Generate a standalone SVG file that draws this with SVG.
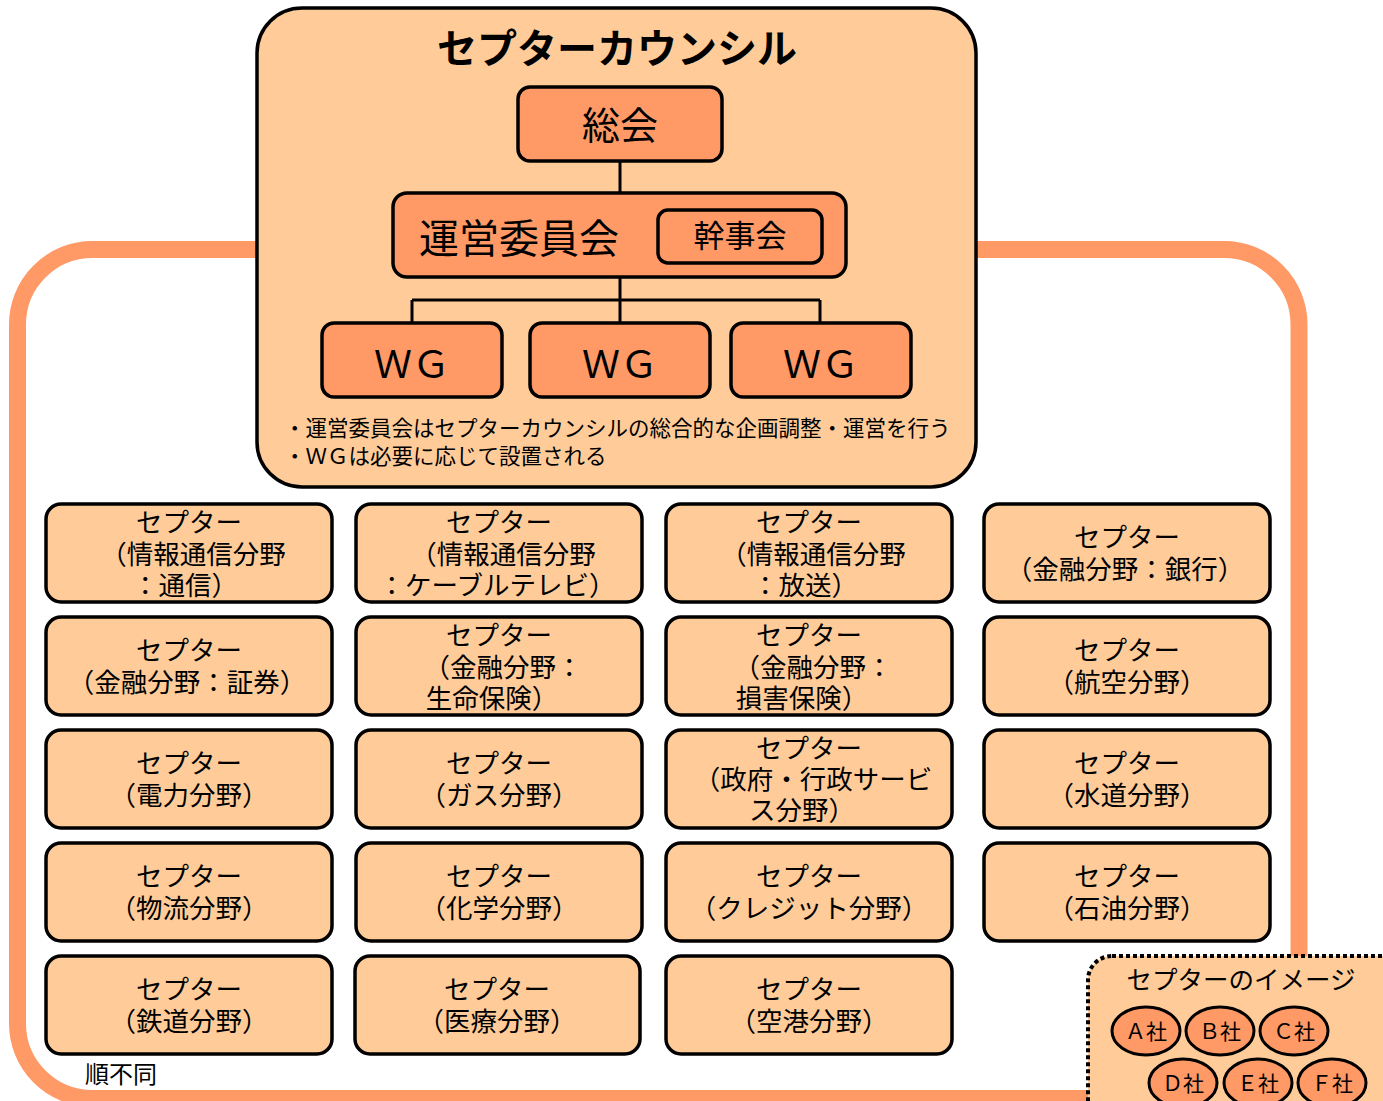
<svg xmlns="http://www.w3.org/2000/svg" width="1383" height="1101" viewBox="0 0 1383 1101">
<style>
text{font-family:"Noto Sans CJK JP","Noto Sans",sans-serif;fill:#000}
.frame{fill:none;stroke:#FF9966;stroke-width:17}
.council{fill:#FFCC99;stroke:#000;stroke-width:3.5}
.org{fill:#FF9966;stroke:#000;stroke-width:3.5}
.sec{fill:#FFCC99;stroke:#000;stroke-width:3.5}
.st{font-size:26.5px;text-anchor:middle}
.co{fill:#FF9966;stroke:#000;stroke-width:3}
.ct{font-size:21px;text-anchor:middle}
.ln{fill:none;stroke:#000;stroke-width:3}
</style>
<rect width="1383" height="1101" fill="#fff"/>
<rect class="frame" x="17.5" y="249.5" width="1281.5" height="849" rx="75"/>
<g id="council">
<rect class="council" x="257" y="8" width="719" height="479" rx="45"/>
<text x="617" y="63" font-size="40" font-weight="bold" text-anchor="middle">セプターカウンシル</text>
<text x="284" y="436" font-size="21.5">・運営委員会はセプターカウンシルの総合的な企画調整・運営を行う</text>
<text x="284" y="464" font-size="21.5">・ＷＧは必要に応じて設置される</text>
</g>
<g id="connectors">
<path class="ln" d="M620 161V193M620 277V300M412 300H820M412 300V323M620 300V323M820 300V323"/>
</g>
<g id="soukai">
<rect class="org" x="518" y="87" width="204" height="74" rx="12"/>
<text x="620" y="139" font-size="38" text-anchor="middle">総会</text>
</g>
<g id="unei">
<rect class="org" x="393" y="193" width="453" height="84" rx="14"/>
<text x="419" y="253" font-size="40">運営委員会</text>
</g>
<g id="kanji">
<rect class="org" x="658" y="210" width="164" height="53" rx="10"/>
<text x="740" y="247" font-size="31" text-anchor="middle">幹事会</text>
</g>
<g id="wg1"><rect class="org" x="322" y="323" width="180" height="74" rx="12"/><text x="412" y="378" font-size="38" text-anchor="middle">ＷＧ</text></g>
<g id="wg2"><rect class="org" x="530" y="323" width="180" height="74" rx="12"/><text x="620" y="378" font-size="38" text-anchor="middle">ＷＧ</text></g>
<g id="wg3"><rect class="org" x="731" y="323" width="180" height="74" rx="12"/><text x="821" y="378" font-size="38" text-anchor="middle">ＷＧ</text></g>

<g id="s1"><rect class="sec" x="46" y="504" width="286" height="98" rx="15"/><text class="st" x="189" y="532">セプター</text><text class="st" x="193" y="564">（情報通信分野</text><text class="st" x="185" y="595">：通信）</text></g>
<g id="s2"><rect class="sec" x="356" y="504" width="286" height="98" rx="15"/><text class="st" x="499" y="532">セプター</text><text class="st" x="503" y="564">（情報通信分野</text><text class="st" x="497" y="595">：ケーブルテレビ）</text></g>
<g id="s3"><rect class="sec" x="666" y="504" width="286" height="98" rx="15"/><text class="st" x="809" y="532">セプター</text><text class="st" x="813" y="564">（情報通信分野</text><text class="st" x="805" y="595">：放送）</text></g>
<g id="s4"><rect class="sec" x="984" y="504" width="286" height="98" rx="15"/><text class="st" x="1127" y="547">セプター</text><text class="st" x="1125" y="579">（金融分野：銀行）</text></g>

<g id="s5"><rect class="sec" x="46" y="617" width="286" height="98" rx="15"/><text class="st" x="189" y="660">セプター</text><text class="st" x="187" y="692">（金融分野：証券）</text></g>
<g id="s6"><rect class="sec" x="356" y="617" width="286" height="98" rx="15"/><text class="st" x="499" y="645">セプター</text><text class="st" x="503" y="677">（金融分野：</text><text class="st" x="492" y="708">生命保険）</text></g>
<g id="s7"><rect class="sec" x="666" y="617" width="286" height="98" rx="15"/><text class="st" x="809" y="645">セプター</text><text class="st" x="813" y="677">（金融分野：</text><text class="st" x="802" y="708">損害保険）</text></g>
<g id="s8"><rect class="sec" x="984" y="617" width="286" height="98" rx="15"/><text class="st" x="1127" y="660">セプター</text><text class="st" x="1127" y="692">（航空分野）</text></g>

<g id="s9"><rect class="sec" x="46" y="730" width="286" height="98" rx="15"/><text class="st" x="189" y="773">セプター</text><text class="st" x="189" y="805">（電力分野）</text></g>
<g id="s10"><rect class="sec" x="356" y="730" width="286" height="98" rx="15"/><text class="st" x="499" y="773">セプター</text><text class="st" x="499" y="805">（ガス分野）</text></g>
<g id="s11"><rect class="sec" x="666" y="730" width="286" height="98" rx="15"/><text class="st" x="809" y="758">セプター</text><text class="st" x="813" y="789">（政府・行政サービ</text><text class="st" x="802" y="820">ス分野）</text></g>
<g id="s12"><rect class="sec" x="984" y="730" width="286" height="98" rx="15"/><text class="st" x="1127" y="773">セプター</text><text class="st" x="1127" y="805">（水道分野）</text></g>

<g id="s13"><rect class="sec" x="46" y="843" width="286" height="98" rx="15"/><text class="st" x="189" y="886">セプター</text><text class="st" x="189" y="918">（物流分野）</text></g>
<g id="s14"><rect class="sec" x="356" y="843" width="286" height="98" rx="15"/><text class="st" x="499" y="886">セプター</text><text class="st" x="499" y="918">（化学分野）</text></g>
<g id="s15"><rect class="sec" x="666" y="843" width="286" height="98" rx="15"/><text class="st" x="809" y="886">セプター</text><text class="st" x="809" y="918">（クレジット分野）</text></g>
<g id="s16"><rect class="sec" x="984" y="843" width="286" height="98" rx="15"/><text class="st" x="1127" y="886">セプター</text><text class="st" x="1127" y="918">（石油分野）</text></g>

<g id="s17"><rect class="sec" x="46" y="956" width="286" height="98" rx="15"/><text class="st" x="189" y="999">セプター</text><text class="st" x="189" y="1031">（鉄道分野）</text></g>
<g id="s18"><rect class="sec" x="355" y="956" width="285" height="98" rx="15"/><text class="st" x="497" y="999">セプター</text><text class="st" x="497" y="1031">（医療分野）</text></g>
<g id="s19"><rect class="sec" x="666" y="956" width="286" height="98" rx="15"/><text class="st" x="809" y="999">セプター</text><text class="st" x="809" y="1031">（空港分野）</text></g>

<text x="85" y="1083" font-size="24">順不同</text>

<g id="image">
<rect x="1088" y="956" width="330" height="180" rx="24" fill="#FFCC99" stroke="#000" stroke-width="4" stroke-dasharray="4 3"/>
<text x="1241" y="989" font-size="25.5" text-anchor="middle">セプターのイメージ</text>
<g id="ca"><ellipse class="co" cx="1146" cy="1031" rx="34" ry="24"/><text class="ct" x="1146" y="1039">Ａ社</text></g>
<g id="cb"><ellipse class="co" cx="1220" cy="1031" rx="34" ry="24"/><text class="ct" x="1220" y="1039">Ｂ社</text></g>
<g id="cc"><ellipse class="co" cx="1294" cy="1031" rx="34" ry="24"/><text class="ct" x="1294" y="1039">Ｃ社</text></g>
<g id="cd"><ellipse class="co" cx="1183" cy="1083" rx="34" ry="24"/><text class="ct" x="1183" y="1091">Ｄ社</text></g>
<g id="ce"><ellipse class="co" cx="1258" cy="1083" rx="34" ry="24"/><text class="ct" x="1258" y="1091">Ｅ社</text></g>
<g id="cf"><ellipse class="co" cx="1332" cy="1083" rx="34" ry="24"/><text class="ct" x="1332" y="1091">Ｆ社</text></g>
</g>
</svg>
